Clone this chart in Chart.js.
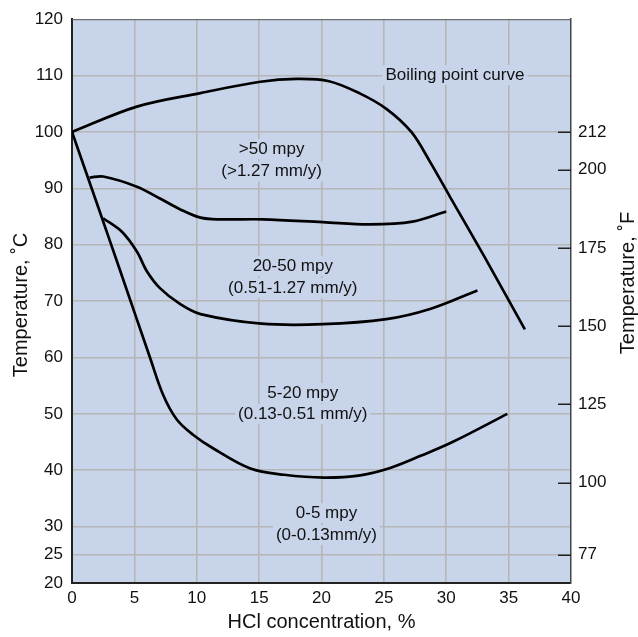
<!DOCTYPE html>
<html>
<head>
<meta charset="utf-8">
<script src="https://cdn.jsdelivr.net/npm/chart.js@4/dist/chart.umd.min.js"></script>
<style>
  html, body { margin: 0; padding: 0; background: #ffffff; }
  #wrap { width: 638px; height: 637px; }
</style>
</head>
<body>
<div id="wrap"><canvas id="c" width="638" height="637"></canvas></div>
<script>
// ---- Data ----
const xTicks = [0, 5, 10, 15, 20, 25, 30, 35, 40];
const yTicksC = [20, 25, 30, 40, 50, 60, 70, 80, 90, 100, 110, 120];
const yTicksF = [77, 100, 125, 150, 175, 200, 212];

const boilX = [0, 5.2, 10.3, 15.1, 18.0, 20.6, 23.1, 25.2, 27.2, 28.7, 30.3, 33.0, 36.3];
const boilY = [100, 104.5, 106.9, 108.9, 109.4, 109.0, 106.8, 104.1, 100.0, 94.7, 88.5, 78.1, 65.0];

const c50X = [1.4, 2.5, 5.2, 7.05, 8.65, 10.3, 11.9, 15.3, 20.1, 23.9, 27.3, 30.0];
const c50Y = [91.9, 92.1, 90.3, 88.2, 86.3, 84.8, 84.5, 84.5, 84.0, 83.6, 84.1, 85.9];

const c20X = [2.5, 4.0, 5.2, 6.0, 7.05, 8.65, 10.3, 15.2, 20.1, 25.2, 28.7, 32.5];
const c20Y = [84.7, 82.3, 78.8, 75.3, 72.3, 69.5, 67.7, 66.0, 65.9, 66.8, 68.6, 71.9];

const c5X = [0, 2.0, 4.0, 6.25, 7.3, 8.4, 9.7, 11.3, 14.3, 17.0, 20.2, 23.1, 25.5, 28.0, 30.5, 34.9];
const c5Y = [100, 87.3, 74.5, 60.0, 53.4, 49.0, 46.3, 43.9, 40.3, 39.2, 38.7, 39.1, 40.4, 42.6, 45.0, 50.0];

const noteText = ["Boiling point curve", ">50 mpy", "(>1.27 mm/y)", "20-50 mpy", "(0.51-1.27 mm/y)",
                  "5-20 mpy", "(0.13-0.51 mm/y)", "0-5 mpy", "(0-0.13mm/y)"];
const noteX = [30.7, 16.0, 16.0, 17.7, 17.7, 18.5, 18.5, 20.4, 20.4];
const noteY = [110.1, 97.0, 93.0, 76.2, 72.3, 53.7, 50.0, 32.4, 28.5];

const xTitle = "HCl concentration, %";
const yTitleC = "Temperature, \u02DAC";
const yTitleF = "Temperature, \u02DAF";

// ---- Styles ----
const FONT = "'Liberation Sans', Arial, sans-serif";
const PLOT_BG = "#c8d4ea";
const GRID = "#b6b6b6";

function pts(xs, ys) { return xs.map((x, i) => ({ x: x, y: ys[i] })); }
function lineDs(xs, ys) {
  return {
    data: pts(xs, ys), borderColor: "#000", borderWidth: 2.7, pointRadius: 0,
    fill: false, tension: 0.35, yAxisID: "y"
  };
}

const bgPlugin = {
  id: "bg",
  beforeDraw(chart) {
    const a = chart.chartArea, ctx = chart.ctx;
    ctx.save();
    ctx.fillStyle = PLOT_BG;
    ctx.fillRect(a.left, a.top, a.right - a.left, a.bottom - a.top);
    ctx.restore();
  },
  beforeDatasetsDraw(chart) {
    const ctx = chart.ctx, xs = chart.scales.x, ys = chart.scales.y;
    ctx.save();
    ctx.font = "17px " + FONT;
    ctx.textAlign = "center";
    ctx.textBaseline = "middle";
    noteText.forEach((t, i) => {
      const px = xs.getPixelForValue(noteX[i]);
      const py = ys.getPixelForValue(noteY[i]);
      const w = ctx.measureText(t).width;
      ctx.fillStyle = PLOT_BG;
      ctx.fillRect(px - w / 2 - 3, py - 10, w + 6, 20);
      ctx.fillStyle = "#111";
      ctx.fillText(t, px, py);
    });
    ctx.restore();
  },
  afterDraw(chart) {
    const a = chart.chartArea, ctx = chart.ctx, y2 = chart.scales.y2;
    ctx.save();
    // top border
    ctx.strokeStyle = "#555";
    ctx.lineWidth = 1;
    ctx.beginPath();
    ctx.moveTo(a.left, a.top + 0.5);
    ctx.lineTo(a.right, a.top + 0.5);
    ctx.stroke();
    // inward ticks on right axis
    ctx.strokeStyle = "#222";
    ctx.lineWidth = 1.5;
    yTicksF.forEach(v => {
      const py = Math.round(y2.getPixelForValue(v)) + 0.25;
      ctx.beginPath();
      ctx.moveTo(a.right - 13, py);
      ctx.lineTo(a.right, py);
      ctx.stroke();
    });
    // titles
    ctx.fillStyle = "#111";
    ctx.font = "20px " + FONT;
    ctx.textAlign = "center";
    ctx.textBaseline = "middle";
    ctx.fillText(xTitle, (a.left + a.right) / 2, 622);
    ctx.save();
    ctx.translate(21, 305);
    ctx.rotate(-Math.PI / 2);
    ctx.fillText(yTitleC, 0, 0);
    ctx.restore();
    ctx.save();
    ctx.translate(628, 283);
    ctx.rotate(-Math.PI / 2);
    ctx.fillText(yTitleF, 0, 0);
    ctx.restore();
    ctx.restore();
  }
};

new Chart(document.getElementById("c"), {
  type: "line",
  data: {
    datasets: [
      lineDs(boilX, boilY),
      lineDs(c50X, c50Y),
      lineDs(c20X, c20Y),
      lineDs(c5X, c5Y)
    ]
  },
  options: {
    responsive: false,
    animation: false,
    layout: { padding: { top: 17, left: 0, right: 0, bottom: 0 } },
    plugins: { legend: { display: false }, tooltip: { enabled: false } },
    scales: {
      x: {
        type: "linear", min: 0, max: 40,
        afterBuildTicks(s) { s.ticks = xTicks.map(v => ({ value: v })); },
        afterFit(s) { s.height = 54; },
        ticks: { color: "#111", font: { family: FONT, size: 17 }, padding: 5, maxRotation: 0 },
        grid: {
          color: GRID,
          lineWidth: ctx => (ctx.tick && (ctx.tick.value === 0 || ctx.tick.value === 40)) ? 0 : 1.6,
          drawTicks: false
        },
        border: { display: true, color: "#222", width: 2 }
      },
      y: {
        type: "linear", position: "left", min: 20, max: 120,
        afterBuildTicks(s) { s.ticks = yTicksC.map(v => ({ value: v })); },
        afterFit(s) { s.width = 72; },
        ticks: { color: "#111", font: { family: FONT, size: 17 }, padding: 9 },
        grid: {
          color: GRID,
          lineWidth: ctx => (ctx.tick && (ctx.tick.value === 20 || ctx.tick.value === 120)) ? 0 : 1.6,
          drawTicks: false
        },
        border: { display: true, color: "#222", width: 2 }
      },
      y2: {
        type: "linear", position: "right", min: 68, max: 248,
        afterBuildTicks(s) { s.ticks = yTicksF.map(v => ({ value: v })); },
        afterFit(s) { s.width = 67; },
        ticks: { color: "#111", font: { family: FONT, size: 17 }, padding: 7 },
        grid: { drawOnChartArea: false, drawTicks: false },
        border: { display: true, color: "#444", width: 1.5 }
      }
    }
  },
  plugins: [bgPlugin]
});
</script>
</body>
</html>
